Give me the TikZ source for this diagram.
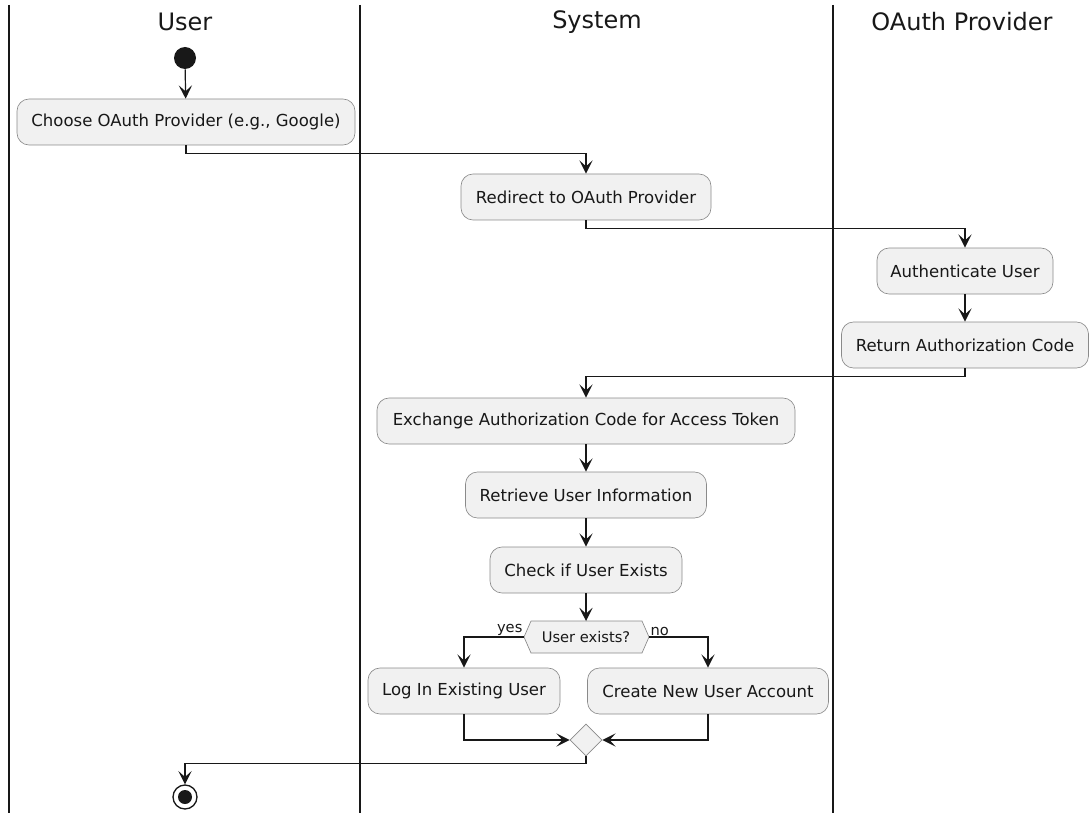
\documentclass[tikz,border=0pt]{standalone}
\usepackage{fontspec}
\setmainfont{DejaVu Sans}
\usetikzlibrary{arrows.meta,shapes.geometric}
\definecolor{actfill}{HTML}{F1F1F1}
\definecolor{actline}{HTML}{8A8A8A}
\definecolor{ink}{HTML}{181818}
\begin{document}
\begin{tikzpicture}[x=0.75pt,y=-0.75pt,
 act/.style={draw=actline, fill=actfill, rounded corners=9pt, line width=0.5pt, minimum height=34.5pt, inner xsep=6pt, text=ink, font=\fontsize{12.4}{14}\selectfont},
 flow/.style={draw=ink, line width=0.9pt, -{Stealth[length=10pt,width=10pt,inset=4.5pt]}},
 lane/.style={line width=1.2pt, draw=ink},
 title/.style={text=ink, font=\fontsize{18}{21}\selectfont},
 lbl/.style={text=ink, font=\fontsize{11}{13}\selectfont, inner sep=1pt}
]
\useasboundingbox (0,0) rectangle (1089,813);
% lanes
\draw[lane] (9,5) -- (9,813);
\draw[lane] (360,5) -- (360,813);
\draw[lane] (833,5) -- (833,813);
\node[title] (tUser) at (185,22) {User};
\node[title] (tSys) at (597,22) {System};
\node[title] (tOA) at (962,22) {OAuth Provider};
% nodes
\node[circle, fill=ink, minimum size=16.5pt, inner sep=0pt] (start) at (185,58) {};
\node[act, minimum width=253.5pt] (choose) at (186,122) {Choose OAuth Provider (e.g., Google)};
\node[act, minimum width=187.5pt] (redirect) at (586,197) {Redirect to OAuth Provider};
\node[act, minimum width=132pt] (auth) at (965,271) {Authenticate User};
\node[act, minimum width=185.25pt] (ret) at (965,345) {Return Authorization Code};
\node[act, minimum width=313.5pt] (exch) at (586,421) {Exchange Authorization Code for Access Token};
\node[act, minimum width=180.75pt] (retr) at (586,495) {Retrieve User Information};
\node[act, minimum width=144pt] (check) at (586,570) {Check if User Exists};
% decision hexagon
\draw[draw=actline, fill=actfill, line width=0.5pt] (524,637) -- (531,621) -- (642,621) -- (649,637) -- (642,653) -- (531,653) -- cycle;
\node[text=ink, font=\fontsize{11}{13}\selectfont] (dec) at (586,637) {User exists?};
\coordinate (decT) at (586,621);
\coordinate (decL) at (524,637);
\coordinate (decR) at (649,637);
\node[act, minimum width=144pt] (login) at (464,691) {Log In Existing User};
\node[act, minimum width=180.75pt] (create) at (708,691) {Create New User Account};
\node[diamond, draw=actline, fill=actfill, line width=0.5pt, minimum size=24pt, inner sep=0pt] (merge) at (586,740) {};
\node[circle, draw=ink, fill=white, line width=1pt, minimum size=18pt, inner sep=0pt] (end) at (185,797) {};
\node[circle, fill=ink, minimum size=10.5pt, inner sep=0pt] (endin) at (185,797) {};
% connectors
\draw[flow] (start) -- (choose);
\draw[flow] (choose.south) -- ++(0,8) -| (redirect.north);
\draw[flow] (redirect.south) -- ++(0,8) -| (auth.north);
\draw[flow] (auth) -- (ret);
\draw[flow] (ret.south) -- ++(0,8) -| (exch.north);
\draw[flow] (exch) -- (retr);
\draw[flow] (retr) -- (check);
\draw[flow] (check) -- (decT);
\draw[flow] (decL) -| (login.north);
\draw[flow] (decR) -| (create.north);
\node[lbl, anchor=south east] (yes) at (decL) {yes};
\node[lbl, anchor=south west] (no) at (decR) {no};
\draw[flow] (login.south) |- (merge.west);
\draw[flow] (create.south) |- (merge.east);
\draw[flow] (merge.south) -- ++(0,7) -| (end.north);
\end{tikzpicture}
\end{document}
